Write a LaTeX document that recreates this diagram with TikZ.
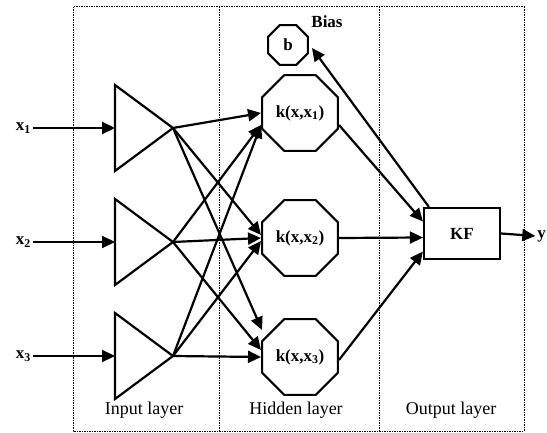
\documentclass[tikz,border=0pt]{standalone}
\usepackage{fontspec}
\setmainfont{Liberation Serif}
\usetikzlibrary{shapes.geometric,arrows.meta}
\begin{document}
\begin{tikzpicture}[x=1pt,y=-1pt,
 line width=2.2pt,
 arr/.style={-{Triangle[length=13pt,width=12pt]}},
 oct/.style={draw,regular polygon,regular polygon sides=8,inner sep=0pt,font=\fontsize{17}{18}\selectfont\bfseries},
 frame/.style={line width=1pt,dash pattern=on 1.5pt off 1pt},
 lbl/.style={font=\fontsize{18}{20}\selectfont},
 blbl/.style={font=\fontsize{17}{18}\selectfont\bfseries},
 tri/.style={line width=2.2pt,line join=miter}]
\useasboundingbox (0,0) rectangle (547,433);
% frame
\draw[frame] (73,7) rectangle (524,431);
\draw[frame] (219,7) -- (219,431);
\draw[frame] (379,7) -- (379,431);
% layer labels
\node[lbl] (li) at (144,410) {Input layer};
\node[lbl] (lh) at (296,410) {Hidden layer};
\node[lbl] (lo) at (451,410) {Output layer};
% triangles
\foreach \i/\y in {1/128,2/242,3/356}{
  \draw[tri] (115,\y-43) -- (173,\y) -- (115,\y+43) -- cycle;
  \coordinate (t\i) at (173,\y);
  \coordinate (in\i) at (115,\y);
  \node[blbl,anchor=east,inner sep=1pt] (x\i) at (33,\y) {x\textsubscript{\i}};
  \draw[arr] (x\i.east) -- (in\i);
}
% hidden nodes
\node[oct,minimum size=82pt] (k1) at (300,113) {k(x,x\textsubscript{1})};
\node[oct,minimum size=82pt] (k2) at (300,238) {k(x,x\textsubscript{2})};
\node[oct,minimum size=82pt] (k3) at (300,357) {k(x,x\textsubscript{3})};
\node[oct,minimum size=43pt] (b) at (288,45) {b};
\node[blbl] (bias) at (327,22) {Bias};
% output
\node[draw,minimum width=76pt,minimum height=51pt,inner sep=0pt,blbl] (kf) at (462,233.5) {KF};
\node[blbl,anchor=east,inner sep=0pt] (y) at (547,236) {y};
% input -> hidden
\draw[arr] (t1) -- (k1.west);
\draw[arr] (t2) -- ([yshift=-12pt]k1.west);
\draw[arr] (t3) -- ([yshift=-12pt]k1.west);
\draw[arr] (t1) -- ([yshift=3pt]k2.west);
\draw[arr] (t2) -- (k2.west);
\draw[arr] (t3) -- ([yshift=-3pt]k2.west);
\draw[arr] (t1) -- ([shift={(1pt,27pt)}]k3.west);
\draw[arr] (t2) -- ([yshift=7pt]k3.west);
\draw[arr] (t3) -- (k3.west);
% hidden -> output
\draw[arr] ([yshift=-12pt]k1.east) -- ([yshift=12pt]kf.west);
\draw[arr] (k2.east) -- ([yshift=-4pt]kf.west);
\draw[arr] ([yshift=-3pt]k3.east) -- ([yshift=-18pt]kf.west);
\draw[arr] ([xshift=6pt]kf.north west) -- ([shift={(3pt,-3pt)}]b.east);
\draw[arr] (kf.east) -- ([xshift=-1pt]y.west);
\end{tikzpicture}
\end{document}
